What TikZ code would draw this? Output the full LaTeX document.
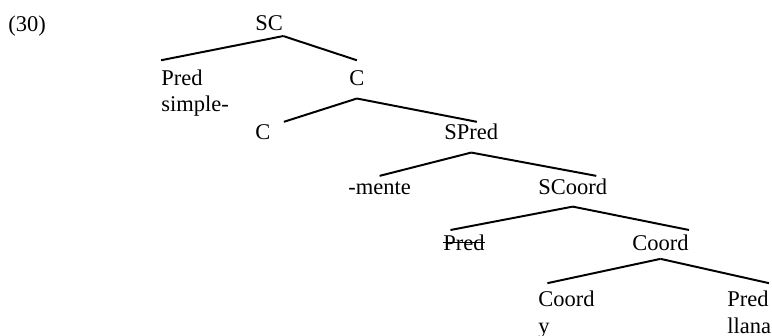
\documentclass[tikz,border=0pt]{standalone}
\usepackage{fontspec}
\setmainfont{Liberation Serif}
\usepackage{tikz}
\usetikzlibrary{positioning}

\begin{document}
\begin{tikzpicture}[lab/.style={anchor=base west,inner xsep=0pt,inner ysep=4pt,text height=8pt,text depth=0pt,font=\fontsize{12pt}{14pt}\selectfont},
  branch/.style={line width=1.05pt}]
\useasboundingbox (0,0) rectangle (14.475,-6.3);
\node[lab] (num) at (0.15,-0.6) {(30)};
\node[lab] (SC) at (4.781,-0.581) {SC};
\node[lab] (Pred) at (3.019,-1.594) {Pred};
\node[lab] (simple) at (3.019,-2.1) {simple-};
\node[lab] (C) at (6.544,-1.594) {C};
\node[lab] (Cl) at (4.781,-2.625) {C};
\node[lab] (SPred) at (8.325,-2.625) {SPred};
\node[lab] (mente) at (6.525,-3.656) {-mente};
\node[lab] (SCoord) at (10.088,-3.656) {SCoord};
\node[lab] (Predx) at (8.306,-4.706) {Pred};
\node[lab] (Coord) at (11.85,-4.706) {Coord};
\node[lab] (CoordL) at (10.088,-5.738) {Coord};
\node[lab] (y) at (10.088,-6.244) {y};
\node[lab] (PredR) at (13.631,-5.738) {Pred};
\node[lab] (llana) at (13.631,-6.244) {llana};
% crossed out copy
\draw[line width=0.9pt] ([yshift=0.5pt]Predx.west) -- ([yshift=0.5pt]Predx.east);
\draw[branch] ([yshift=1.5pt]SC.south east) -- ([yshift=1pt]Pred.north west);
\draw[branch] ([yshift=1.5pt]SC.south east) -- ([yshift=1pt]C.north);
\draw[branch] ([yshift=-3pt]C.south) -- ([xshift=7pt,yshift=-2.5pt]Cl.north east);
\draw[branch] ([yshift=-3pt]C.south) -- ([xshift=3pt,yshift=-2.5pt]SPred.north);
\draw[branch] ([yshift=-2.5pt]SPred.south) -- ([yshift=-2pt]mente.north);
\draw[branch] ([yshift=-2.5pt]SPred.south) -- ([xshift=-6pt,yshift=-2pt]SCoord.north east);
\draw[branch] ([yshift=-2pt]SCoord.south) -- ([xshift=4pt,yshift=-1pt]Predx.north west);
\draw[branch] ([yshift=-2pt]SCoord.south) -- ([yshift=-1pt]Coord.north east);
\draw[branch] (Coord.south) -- ([xshift=5pt]CoordL.north west);
\draw[branch] (Coord.south) -- (PredR.north east);
\end{tikzpicture}
\end{document}
